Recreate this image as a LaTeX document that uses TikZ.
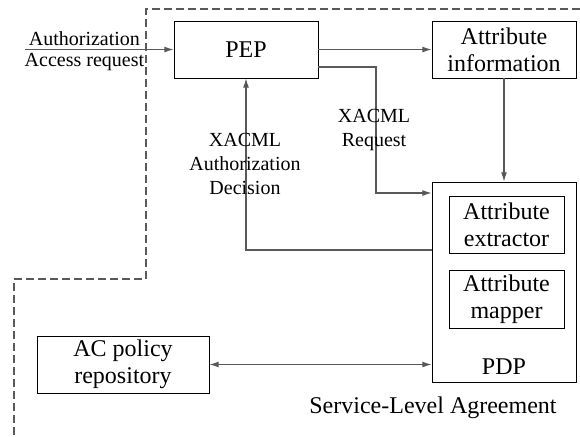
\documentclass[tikz,border=0pt]{standalone}
\usepackage{fontspec}
\setmainfont{Liberation Serif}
\usetikzlibrary{positioning, calc, arrows.meta}

\tikzset{
  box/.style={draw, line width=0.6pt, inner sep=0pt, align=center, font=\fontsize{18}{20.5}\selectfont},
  arr/.style={draw=black!65, line width=0.8pt, -{Latex[length=7pt,width=4.5pt]}},
  lbl/.style={align=center, font=\fontsize{15}{18}\selectfont}
}

\begin{document}
\begin{tikzpicture}[x=0.75pt, y=-0.75pt]
			\useasboundingbox (0,0) rectangle (580,436);

			% service-level agreement border
			\draw[black!65, line width=0.8pt, dash pattern=on 6pt off 3pt] (580,9) -- (146,9) -- (146,279) -- (14,279) -- (14,436);
			\node[font=\fontsize{18}{20}\selectfont] (sla) at (433,408) {Service-Level Agreement};

			\node (pep) at (246,49.5) [box, minimum width=108pt, minimum height=42.75pt] {PEP};
			\node (attr) at (504,49.5) [box, minimum width=108pt, minimum height=42.75pt] {Attribute\\information};
			\node (pdp) at (504,282) [box, minimum width=108pt, minimum height=150pt] {};
			\node (extr) at (506.5,224.5) [box, minimum width=86.25pt, minimum height=42.75pt] {Attribute\\extractor};
			\node (map) at (506.5,299) [box, minimum width=86.25pt, minimum height=43.5pt] {Attribute\\mapper};
			\node (pdplbl) at (504,367) [font=\fontsize{18}{20}\selectfont] {PDP};
			\node (acp) at (123,364.5) [box, minimum width=129pt, minimum height=42.75pt] {AC policy\\repository};

			\coordinate (in) at (25,49.5);
			\draw[arr] (in) -- node[pos=0.4, above, lbl, inner sep=2.5pt]{Authorization} node[pos=0.4, below, lbl, inner sep=2.5pt]{Access request} (pep.west);
			\draw[arr] (pep.east) -- (attr.west);
			\draw[arr] (pep.east |- 0,67) -| (376,193) -- (pdp.west |- 0,193);
			\draw[arr] (attr.south) -- (pdp.north);
			\draw[arr] (pdp.west |- 0,250) -| (pep.south);
			\draw[arr, {Latex[length=7pt,width=4.5pt]}-{Latex[length=7pt,width=4.5pt]}] (acp.east) -- (pdp.west |- acp.east);

			\node (req) at (374,130) [lbl] {XACML\\Request};
			\node (dec) at (245,164) [lbl] {XACML\\Authorization\\Decision};
		\end{tikzpicture}
\end{document}
